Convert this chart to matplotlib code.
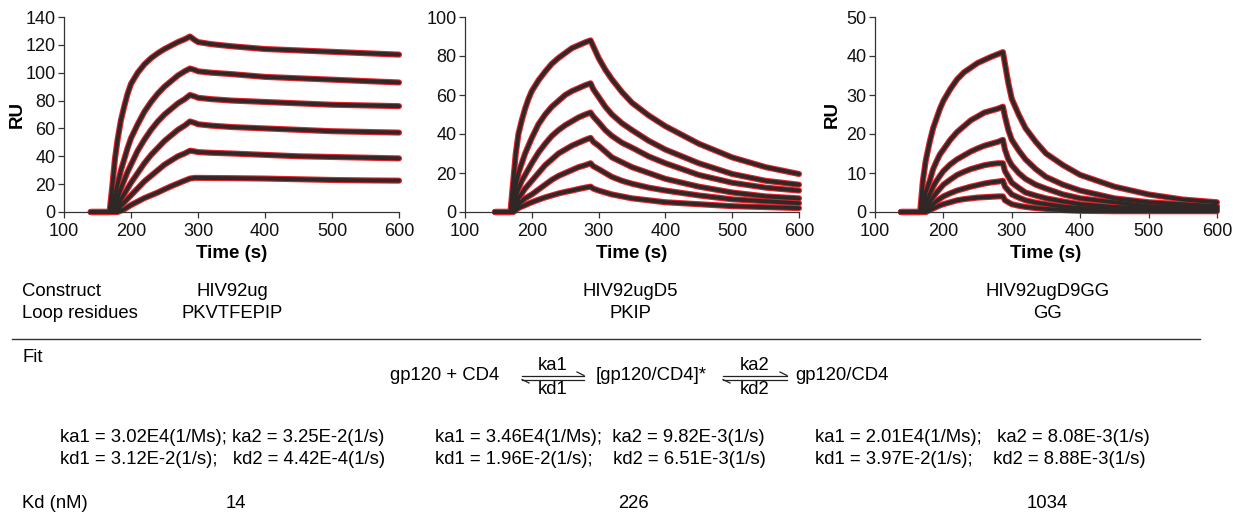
import matplotlib
matplotlib.use('Agg')
import matplotlib.pyplot as plt
from matplotlib.lines import Line2D

plt.rcParams['font.family'] = ['Liberation Sans', 'DejaVu Sans']

W, H = 1242, 517

# --- sensorgram data (RU vs time, s) ---
t1 = [140, 168, 172, 176, 180, 185, 190, 195, 200, 210, 220, 230, 240, 250, 260, 270,
      280, 288, 295, 300, 320, 350, 400, 450, 500, 550, 600]
ug = [
    [0, 0, 18, 38, 52, 66, 76, 85, 92, 100, 106, 110.5, 114, 117, 119.5, 122, 124, 126, 123.5, 122,
     120.5, 119, 117, 116, 115, 114, 113],
    [0, 0, 5, 12, 20, 30, 38, 46, 53, 63, 72, 79, 85, 90, 94, 98, 101, 103, 102, 101,
     100, 99, 97, 96, 95, 94, 93],
    [0, 0, 2, 6, 10, 17, 23, 29, 34, 44, 52, 59, 65, 70, 74, 78, 81, 84, 83, 82,
     81, 80, 79, 78, 77, 76.5, 76],
    [0, 0, 0, 2, 5, 9, 13, 17, 21, 28, 35, 41, 46, 51, 55, 59, 62, 65, 64, 63,
     62, 61, 60, 59, 58, 57.5, 57],
    [0, 0, 0, 0, 2, 4.5, 7, 9.5, 12, 17, 22, 26, 30, 34, 37, 40, 42, 44, 43.5, 43,
     42.5, 42, 41, 40, 39.5, 39, 38.5],
    [0, 0, 0, 0, 0, 1, 2, 3.5, 5, 7.5, 10, 12, 14, 16.3, 18.5, 20.5, 22.5, 24, 24.5, 24.5,
     24.4, 24.3, 24, 23.5, 23, 22.7, 22.5],
]

t2 = [145, 168, 172, 176, 180, 185, 190, 195, 200, 210, 220, 230, 240, 250, 260, 270,
      280, 288, 292, 300, 310, 320, 335, 350, 375, 400, 450, 500, 550, 600]
d5 = [
    [0, 0, 15, 30, 40, 47, 53, 58, 62, 67.5, 72, 76, 79, 81.5, 84, 85.5, 87, 88, 85, 79,
     73, 68, 61.5, 56, 49.5, 44, 35, 28, 23, 19.5],
    [0, 0, 6, 14, 20, 25, 30, 34, 38, 45, 50, 54, 57, 60, 62, 63.5, 65, 66, 63, 59,
     54, 50, 45.5, 42, 36.5, 32, 25, 19.5, 16, 14],
    [0, 0, 3, 8, 12, 16, 19, 22, 25, 30.5, 35, 39, 42, 44.5, 46.5, 48.5, 50, 51, 49, 46,
     42, 39, 35.5, 33, 28.5, 25, 19, 15, 12.5, 11],
    [0, 0, 1, 4, 7, 9.5, 12, 14, 16, 20, 24, 27, 30, 32, 34, 35.5, 37, 38, 36, 34,
     31, 28, 25.5, 23, 20, 17, 13, 10, 8, 7],
    [0, 0, 0, 2, 4, 5.5, 7, 8, 9, 11.5, 14, 16.5, 18.5, 20, 21.5, 23, 24, 25, 23.5, 22,
     20, 18, 16, 14.5, 12.5, 11, 8.5, 6.5, 5.5, 4.5],
    [0, 0, 0, 1, 2, 2.8, 3.5, 4.3, 5, 6.3, 7.5, 8.5, 9.5, 10.3, 11, 11.8, 12.5, 13, 12, 11,
     10, 9, 8, 7, 6, 5, 4, 3, 2.5, 2],
]

t3 = [138, 166, 170, 174, 180, 185, 190, 195, 200, 210, 220, 230, 240, 250, 260, 270,
      280, 287, 290, 295, 300, 310, 320, 335, 350, 375, 400, 450, 500, 550, 600]
d9 = [
    [0, 0, 8, 13, 18, 21.5, 24, 26.5, 28.5, 31.5, 34, 35.8, 37, 38.2, 39, 39.8,
     40.5, 41, 38, 33, 29, 25, 21.5, 18, 15, 12, 9.5, 6.5, 4.5, 3.2, 2.5],
    [0, 0, 2, 5, 8, 11, 13, 14.8, 16, 18.5, 20.5, 22, 23.5, 24.5, 25.5, 26,
     26.5, 27, 24.5, 21, 18.5, 15.8, 13.5, 11, 9, 7, 5.5, 3.5, 2.5, 2, 1.5],
    [0, 0, 1, 2.5, 4.5, 6.5, 8, 9.3, 10.5, 12.2, 13.5, 14.5, 15.5, 16.3, 17, 17.5,
     18, 18.5, 16, 13.5, 12, 10, 8.5, 7, 6, 4.5, 3.5, 2.5, 1.5, 1.2, 1],
    [0, 0, 0, 1, 2.5, 3.8, 5, 6, 7, 8.3, 9.5, 10.3, 11, 11.5, 12, 12.3,
     12.5, 12.5, 10.5, 9, 7.5, 6.2, 5, 4.2, 3.5, 2.7, 2, 1.3, 1, 0.8, 0.8],
    [0, 0, 0, 0, 1, 2, 2.8, 3.4, 4, 4.8, 5.5, 6, 6.5, 6.9, 7.3, 7.6,
     7.8, 8, 6.5, 5.5, 4.5, 3.7, 3, 2.4, 2, 1.4, 1, 0.7, 0.5, 0.5, 0.5],
    [0, 0, 0, 0, 0.5, 0.9, 1.3, 1.7, 2, 2.5, 3, 3.3, 3.5, 3.7, 3.8, 3.9,
     4, 4, 3, 2.5, 2, 1.6, 1.3, 1, 0.8, 0.5, 0.3, 0.2, 0.2, 0.2, 0.2],
]

ymax = [140, 100, 50]
ystep = [20, 20, 10]
show_ru = [True, False, True]

constructs = ["HIV92ug", "HIV92ugD5", "HIV92ugD9GG"]
loops = ["PKVTFEPIP", "PKIP", "GG"]
ka_rows = ["ka1 = 3.02E4(1/Ms); ka2 = 3.25E-2(1/s)",
           "ka1 = 3.46E4(1/Ms);  ka2 = 9.82E-3(1/s)",
           "ka1 = 2.01E4(1/Ms);   ka2 = 8.08E-3(1/s)"]
kd_rows = ["kd1 = 3.12E-2(1/s);   kd2 = 4.42E-4(1/s)",
           "kd1 = 1.96E-2(1/s);    kd2 = 6.51E-3(1/s)",
           "kd1 = 3.97E-2(1/s);    kd2 = 8.88E-3(1/s)"]
kd_nm = ["14", "226", "1034"]

RED = "#e3222b"
DARK = "#2e2826"

fig = plt.figure(figsize=(W / 100, H / 100), dpi=100)

def fx(x):
    return x / W

def fy(y):
    return 1 - y / H

boxes = [(64, 399), (465, 799), (875, 1217)]
ru_x = [17.5, None, 832]
top, bot = 17, 212
panels = [(t1, ug), (t2, d5), (t3, d9)]

for i, (x0, x1) in enumerate(boxes):
    ax = fig.add_axes([fx(x0), fy(bot), fx(x1 - x0), (bot - top) / H])
    t, curves = panels[i]
    for c in curves:
        ax.plot(t, c, color=RED, lw=4.4, solid_capstyle='round', zorder=2, clip_on=False)
    for c in curves:
        ax.plot(t, c, color=DARK, lw=2.8, solid_capstyle='round', zorder=3, clip_on=False)
    ax.set_xlim(100, 600)
    ax.set_ylim(0, ymax[i])
    ax.set_xticks(range(100, 601, 100))
    ax.set_yticks(range(0, ymax[i] + 1, ystep[i]))
    for s in ['top', 'right']:
        ax.spines[s].set_visible(False)
    for s in ['left', 'bottom']:
        ax.spines[s].set_color('#333333')
        ax.spines[s].set_linewidth(0.9)
    ax.tick_params(direction='out', length=4, width=0.9, colors='#333333',
                   labelsize=13, labelcolor='#111111')
    ax.tick_params(axis='x', pad=4)
    ax.tick_params(axis='y', pad=2)
    ax.set_xlabel("Time (s)", fontsize=13.5, fontweight='bold')
    ax.xaxis.set_label_coords(0.5, (bot - 254) / (bot - top), transform=ax.transAxes)
    ax.xaxis.label.set_va('center')
    if show_ru[i]:
        ax.set_ylabel("RU", fontsize=13.5, fontweight='bold')
        ax.yaxis.set_label_coords((ru_x[i] - x0) / (x1 - x0), 0.5, transform=ax.transAxes)
        ax.yaxis.label.set_va('center')

fs = 13.3

# table rows
fig.text(fx(22), fy(291), "Construct", fontsize=fs, va='center')
fig.text(fx(22), fy(314), "Loop residues", fontsize=fs, va='center')
ccx = [232, 630, 1048]
for cx, c, l in zip(ccx, constructs, loops):
    fig.text(fx(cx), fy(291), c, fontsize=fs, va='center', ha='center')
    fig.text(fx(cx), fy(314), l, fontsize=fs, va='center', ha='center')

fig.add_artist(Line2D([fx(12), fx(1200)], [fy(339), fy(339)], color='#333333', lw=1.0))

fig.text(fx(22), fy(357), "Fit", fontsize=fs, va='center')

# reaction scheme
ys = 376
fig.text(fx(390), fy(ys), "gp120 + CD4", fontsize=fs, va='center')
fig.text(fx(596), fy(ys), "[gp120/CD4]*", fontsize=fs, va='center')
fig.text(fx(795), fy(ys), "gp120/CD4", fontsize=fs, va='center')

def eq_arrow(xa, xb, up, down):
    ya, yb = 375.5, 379.5
    kw = dict(color='#222222', lw=0.9)
    fig.add_artist(Line2D([fx(xa), fx(xb)], [fy(ya), fy(ya)], **kw))
    fig.add_artist(Line2D([fx(xb - 7), fx(xb)], [fy(ya - 3.5), fy(ya)], **kw))
    fig.add_artist(Line2D([fx(xa), fx(xb)], [fy(yb), fy(yb)], **kw))
    fig.add_artist(Line2D([fx(xa), fx(xa + 7)], [fy(yb), fy(yb + 3.5)], **kw))
    xm = (xa + xb) / 2
    fig.text(fx(xm), fy(ya - 2), up, fontsize=fs, ha='center', va='bottom')
    fig.text(fx(xm), fy(yb + 1), down, fontsize=fs, ha='center', va='top')

eq_arrow(522, 584, "ka1", "kd1")
eq_arrow(723, 787, "ka2", "kd2")

# rate constants
kx = [60, 435, 815]
for x, a, d in zip(kx, ka_rows, kd_rows):
    fig.text(fx(x), fy(438), a, fontsize=fs, va='center')
    fig.text(fx(x), fy(460), d, fontsize=fs, va='center')

fig.text(fx(22), fy(503), "Kd (nM)", fontsize=fs, va='center')
for cx, v in zip([236, 633, 1047], kd_nm):
    fig.text(fx(cx), fy(503), v, fontsize=fs, va='center', ha='center')

plt.savefig("out.png", dpi=100)
